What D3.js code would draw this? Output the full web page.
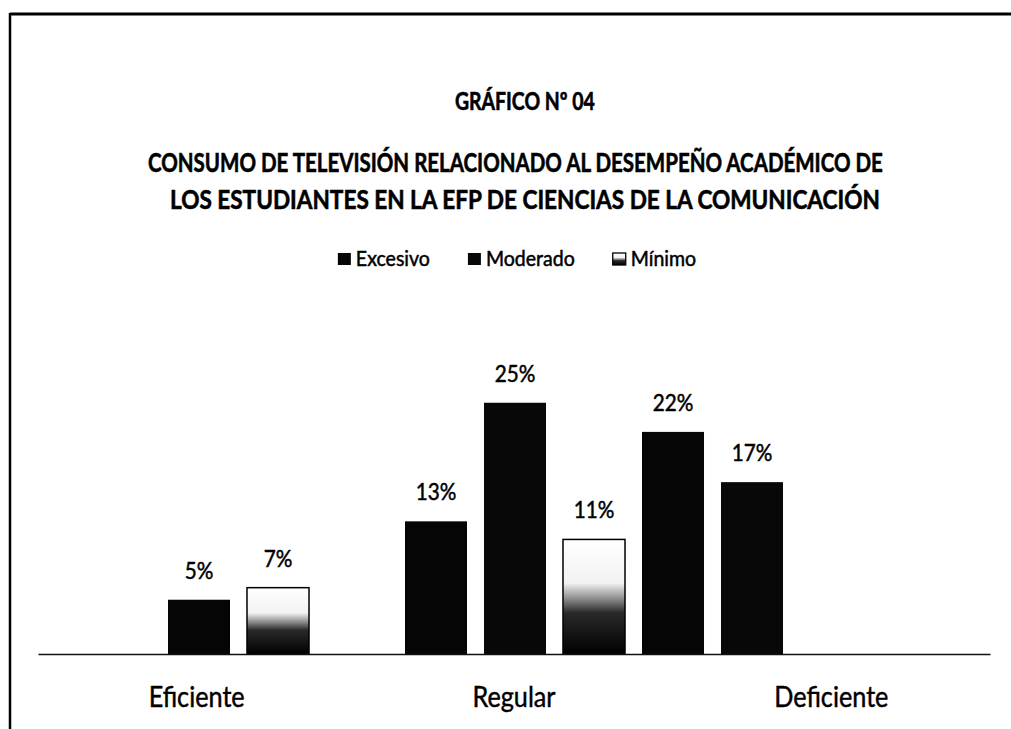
<!DOCTYPE html>
<html>
<head>
<meta charset="utf-8">
<script src="https://cdn.jsdelivr.net/npm/d3@7"></script>
<style>
  html, body { margin: 0; padding: 0; background: #fff; }
  svg { display: block; }
  text { font-family: Lato, "Open Sans", sans-serif; fill: #000; }
</style>
</head>
<body>
<svg id="chart" width="1011" height="729"></svg>
<script>
// ---- data ----
const categories = ["Eficiente", "Regular", "Deficiente"];
const seriesNames = ["Excesivo", "Moderado", "Mínimo"];
const excesivo = [5.4, 13.2, 22.1];
const moderado = [null, 25.0, 17.1];
const minimo = [6.6, 11.4, null];
const titleText = "GRÁFICO Nº 04";
const subtitleLines = [
  "CONSUMO DE TELEVISIÓN RELACIONADO AL DESEMPEÑO ACADÉMICO DE",
  "LOS ESTUDIANTES EN LA EFP DE CIENCIAS DE LA COMUNICACIÓN"
];

const seriesValues = { "Excesivo": excesivo, "Moderado": moderado, "Mínimo": minimo };

const svg = d3.select("#chart");
const W = 1011, H = 729;

// gradient for "Mínimo"
const defs = svg.append("defs");
const grad = defs.append("linearGradient").attr("id", "gradMin")
  .attr("x1", 0).attr("y1", 0).attr("x2", 0).attr("y2", 1);
[[0, "#ffffff"], [0.38, "#f2f2f2"], [0.52, "#8a8a8a"], [0.64, "#2a2a2a"], [1, "#000000"]]
  .forEach(([o, c]) => grad.append("stop").attr("offset", o).attr("stop-color", c));

const fillFor = { "Excesivo": "#050505", "Moderado": "#080808", "Mínimo": "url(#gradMin)" };

// frame (scan border)
svg.append("line").attr("x1", 10).attr("x2", W).attr("y1", 14).attr("y2", 14)
  .attr("stroke", "#000").attr("stroke-width", 3);
svg.append("line").attr("x1", 10).attr("x2", 10).attr("y1", 13).attr("y2", H)
  .attr("stroke", "#000").attr("stroke-width", 2.5);

// helper to condense text horizontally (Calibri-like)
function condense(sel, factor) {
  sel.each(function () {
    const len = this.getComputedTextLength();
    d3.select(this).attr("textLength", len * factor).attr("lengthAdjust", "spacingAndGlyphs");
  });
}
// place a text so that it spans [x, x+w] by horizontal scaling
function fitText(txt, x, yPos, w, size) {
  const t = svg.append("text").attr("x", 0).attr("y", 0)
    .attr("font-size", size).attr("font-weight", 700)
    .attr("stroke", "#000").attr("stroke-width", 0.6).text(txt);
  const len = t.node().getComputedTextLength();
  t.attr("transform", `translate(${x},${yPos}) scale(${w / len},1)`);
  return t;
}

// titles (left x, width of each line in the reference)
fitText(titleText, 455, 110, 140, 25);
const subLayout = [{ x: 148, w: 735, y: 172 }, { x: 170, w: 710, y: 209 }];
subtitleLines.forEach((line, i) => fitText(line, subLayout[i].x, subLayout[i].y, subLayout[i].w, 26));

// legend
const legend = svg.append("g");
let lx = 0;
seriesNames.forEach(name => {
  const g = legend.append("g").attr("transform", `translate(${lx},0)`);
  g.append("rect").attr("x", 0).attr("y", -13).attr("width", 13).attr("height", 12)
    .attr("fill", fillFor[name]).attr("stroke", "#000").attr("stroke-width", name === "Mínimo" ? 1.3 : 0);
  const t = g.append("text").attr("x", 18).attr("y", 0).attr("font-size", 21)
    .attr("stroke", "#000").attr("stroke-width", 0.5).text(name);
  condense(t, 0.93);
  lx += 18 + (+t.attr("textLength")) + 38;
});
const legendW = lx - 38;
legend.attr("transform", `translate(${517 - legendW / 2},266)`);

// scales
const y = d3.scaleLinear().domain([0, 30]).range([654, 352.5]);
const x0 = d3.scaleBand().domain(categories).range([159.5, 870.5]).padding(0);
const slot = d3.scaleBand().domain([0, 1, 2]).range([0, x0.bandwidth()])
  .paddingInner(0.215).paddingOuter(0.1075);
const xLab = d3.scaleBand().domain(categories).range([38, 990]).padding(0);

// bars: present bars of each category packed in order
const barData = [];
categories.forEach((cat, ci) => {
  const present = seriesNames.filter(s => seriesValues[s][ci] != null && seriesValues[s][ci] > 0);
  present.forEach((s, k) => barData.push({ cat, series: s, value: seriesValues[s][ci], k }));
});

const bars = svg.append("g");
bars.selectAll("rect").data(barData).join("rect")
  .attr("x", d => x0(d.cat) + slot(d.k))
  .attr("y", d => y(d.value))
  .attr("width", slot.bandwidth())
  .attr("height", d => y(0) - y(d.value))
  .attr("fill", d => fillFor[d.series])
  .attr("stroke", d => d.series === "Mínimo" ? "#000" : "none")
  .attr("stroke-width", 1.5);

const lbls = bars.selectAll("text").data(barData).join("text")
  .attr("x", d => x0(d.cat) + slot(d.k) + slot.bandwidth() / 2)
  .attr("y", d => y(d.value) - 21)
  .attr("text-anchor", "middle").attr("font-size", 23)
  .attr("stroke", "#000").attr("stroke-width", 0.5)
  .text(d => Math.round(d.value) + "%");
condense(lbls, 0.9);

// x axis
const axis = svg.append("g").attr("transform", "translate(0,654)")
  .call(d3.axisBottom(xLab).tickSize(0).tickSizeOuter(0));
axis.select(".domain").attr("stroke", "#111").attr("stroke-width", 1.6);
axis.selectAll(".tick text").attr("y", 53).attr("dy", 0)
  .attr("font-size", 28).attr("font-family", "Lato, sans-serif").attr("fill", "#000")
  .attr("stroke", "#000").attr("stroke-width", 0.45);
condense(axis.selectAll(".tick text"), 0.9);
</script>
</body>
</html>
